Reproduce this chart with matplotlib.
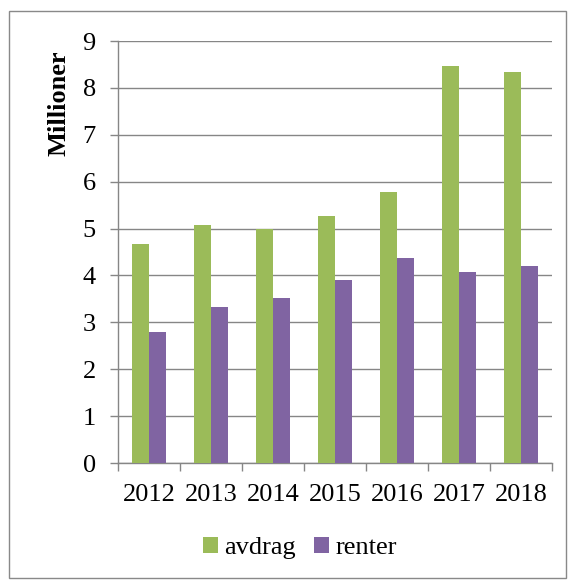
import numpy as np
import matplotlib
matplotlib.use("Agg")
import matplotlib.pyplot as plt
from matplotlib.patches import Rectangle

years = ["2012", "2013", "2014", "2015", "2016", "2017", "2018"]
avdrag = [4.68, 5.08, 4.98, 5.27, 5.78, 8.47, 8.33]
renter = [2.80, 3.33, 3.52, 3.90, 4.38, 4.07, 4.20]

GREEN = "#9BBB59"
PURPLE = "#8064A2"
GRID = "#868686"
FS = 19

plt.rcParams["font.family"] = ["Liberation Serif", "DejaVu Serif"]

fig = plt.figure(figsize=(5.69, 5.81), dpi=100)
fig.patches.append(Rectangle((9 / 569, 3 / 581), 557 / 569, 567 / 581,
                             transform=fig.transFigure, fill=False,
                             edgecolor="#898989", linewidth=1.0))

ax = fig.add_axes([118 / 569, 1 - 463 / 581, 434 / 569, 422 / 581])
x = np.arange(len(years))
w = 0.28
ax.bar(x - w / 2, avdrag, w, color=GREEN, label="avdrag", zorder=3)
ax.bar(x + w / 2, renter, w, color=PURPLE, label="renter", zorder=3)

ax.set_xlim(-0.5, len(years) - 0.5)
ax.set_ylim(0, 9)
ax.set_yticks(range(10))
ax.yaxis.grid(True, color=GRID, linewidth=1.0, zorder=0)
ax.set_axisbelow(True)

ax.set_xticks(x)
ax.set_xticklabels(years, fontsize=FS)
ax.tick_params(axis="x", length=0, pad=15)
ax.set_xticks(np.arange(-0.5, len(years)), minor=True)
ax.tick_params(axis="x", which="minor", length=6, color=GRID, width=1.0)
ax.tick_params(axis="y", labelsize=FS, length=6, color=GRID, width=1.0, pad=10)

for s in ["top", "right"]:
    ax.spines[s].set_visible(False)
for s in ["left", "bottom"]:
    ax.spines[s].set_color(GRID)
    ax.spines[s].set_linewidth(1.0)

# aksetittel ligger oppe ved toppen, som i Excel
fig.text(59 / 569, 1 - 103 / 581, "Millioner", rotation=90, ha="center",
         va="center", fontsize=FS, fontweight="bold")

fig.legend(loc="center", bbox_to_anchor=(300 / 569, 1 - 548 / 581),
           ncol=2, frameon=False, fontsize=FS, handlelength=0.55,
           handleheight=0.55, handletextpad=0.25, columnspacing=0.7)

fig.savefig("out.png", dpi=100)
